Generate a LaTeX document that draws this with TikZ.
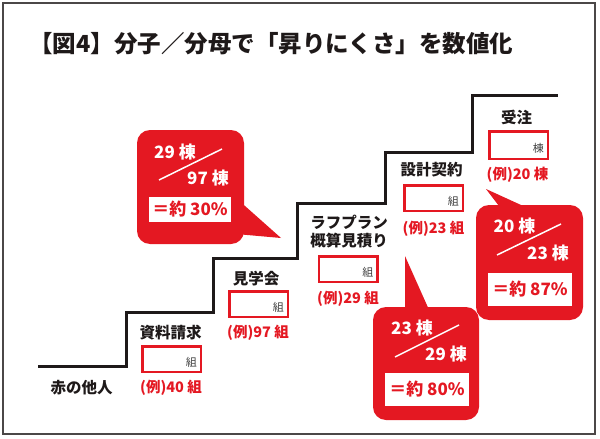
\documentclass[tikz,border=0pt]{standalone}
\usepackage{fontspec}
\setmainfont{Noto Sans CJK JP}
\usetikzlibrary{calc}
\definecolor{jred}{RGB}{228,24,34}
\definecolor{ink}{RGB}{30,25,25}
\begin{document}
\begin{tikzpicture}[x=1pt,y=-1pt,
  stair/.style={line width=3pt, ink},
  lbl/.style={font=\bfseries\fontsize{15.5}{18}\selectfont, text=ink, inner sep=0, align=center},
  ansbox/.style={draw=jred, line width=2.5pt, fill=white, minimum width=58.5pt, minimum height=25.5pt, inner sep=0},
  ex/.style={font=\bfseries\fontsize{14.5}{16}\selectfont, text=jred, inner sep=0},
  unit/.style={font=\fontsize{11}{12}\selectfont, text=black!75, inner sep=0, anchor=east},
  callout/.style={fill=jred, rounded corners=13pt},
  frac/.style={font=\bfseries\fontsize{17}{20}\selectfont, text=white, inner sep=0},
  res/.style={fill=white, font=\bfseries\fontsize{17}{20}\selectfont, text=jred, inner sep=0, minimum width=84pt, minimum height=33pt},
  slash/.style={white, line width=1.5pt},
]
\useasboundingbox (0,0) rectangle (600,439);
\draw[line width=1.2pt, ink!80] (3,3) rectangle (595,434);
\node[anchor=west, font=\bfseries\fontsize{23.5}{28}\selectfont, text=ink, inner sep=0] (title) at (29,44) {【図4】分子／分母で「昇りにくさ」を数値化};

% stairs
\draw[stair] (38,366) -- (126,366) -- (126,312) -- (213,312) -- (213,258) -- (297,258) -- (297,203) -- (385,203) -- (385,152) -- (472,152) -- (472,95) -- (558,95);

% labels and boxes
\node[lbl] (l0) at (81.5,388) {赤の他人};

\node[lbl] (l1) at (170.5,333) {資料請求};
\node[ansbox] (b1) at (171.5,359) {};
\node[unit] (u1) at ($(b1.east)+(-5,3)$) {組};
\node[ex] (e1) at (171,388) {(例)40 組};

\node[lbl] (l2) at (256,279) {見学会};
\node[ansbox] (b2) at (258.5,304) {};
\node[unit] (u2) at ($(b2.east)+(-5,3)$) {組};
\node[ex] (e2) at (258,333) {(例)97 組};

\node[lbl] (l3) at (349,232) {ラフプラン\\概算見積り};
\node[ansbox] (b3) at (348,269) {};
\node[unit] (u3) at ($(b3.east)+(-5,3)$) {組};
\node[ex] (e3) at (348,299) {(例)29 組};

\node[lbl] (l4) at (431.5,170) {設計契約};
\node[ansbox] (b4) at (433.5,198) {};
\node[unit] (u4) at ($(b4.east)+(-5,3)$) {組};
\node[ex] (e4) at (433.5,229) {(例)23 組};

\node[lbl] (l5) at (516.5,117) {受注};
\node[ansbox, minimum height=27.5pt] (b5) at (518.5,145) {};
\node[unit] (u5) at ($(b5.east)+(-5,3)$) {棟};
\node[ex] (e5) at (517.5,175) {(例)20 棟};

% callout 1
\fill[jred] (236,198) -- (281,238) -- (236,234) -- cycle;
\fill[callout] (137,130) rectangle (244,244);
\node[frac] (n1) at (175,152) {29 棟};
\node[frac] (d1) at (208,178) {97 棟};
\draw[slash] (159,180) -- (222,149);
\node[res, minimum width=82pt, minimum height=25pt] (r1) at (190,209.5) {＝約 30\%};

% callout 2
\fill[jred] (405,256) -- (405,312) -- (430,312) -- cycle;
\fill[callout] (373,307) rectangle (479,420);
\node[frac] (n2) at (412,328) {23 棟};
\node[frac] (d2) at (446,354) {29 棟};
\draw[slash] (395,357) -- (459,325);
\node[res] (r2) at (427,389.5) {＝約 80\%};

% callout 3
\fill[jred] (486,189) -- (502,210) -- (532,210) -- cycle;
\fill[callout] (476,205) rectangle (583,320);
\node[frac] (n3) at (514.5,226) {20 棟};
\node[frac] (d3) at (548,253) {23 棟};
\draw[slash] (497,255) -- (561,224);
\node[res] (r3) at (530,289.5) {＝約 87\%};
\end{tikzpicture}
\end{document}
